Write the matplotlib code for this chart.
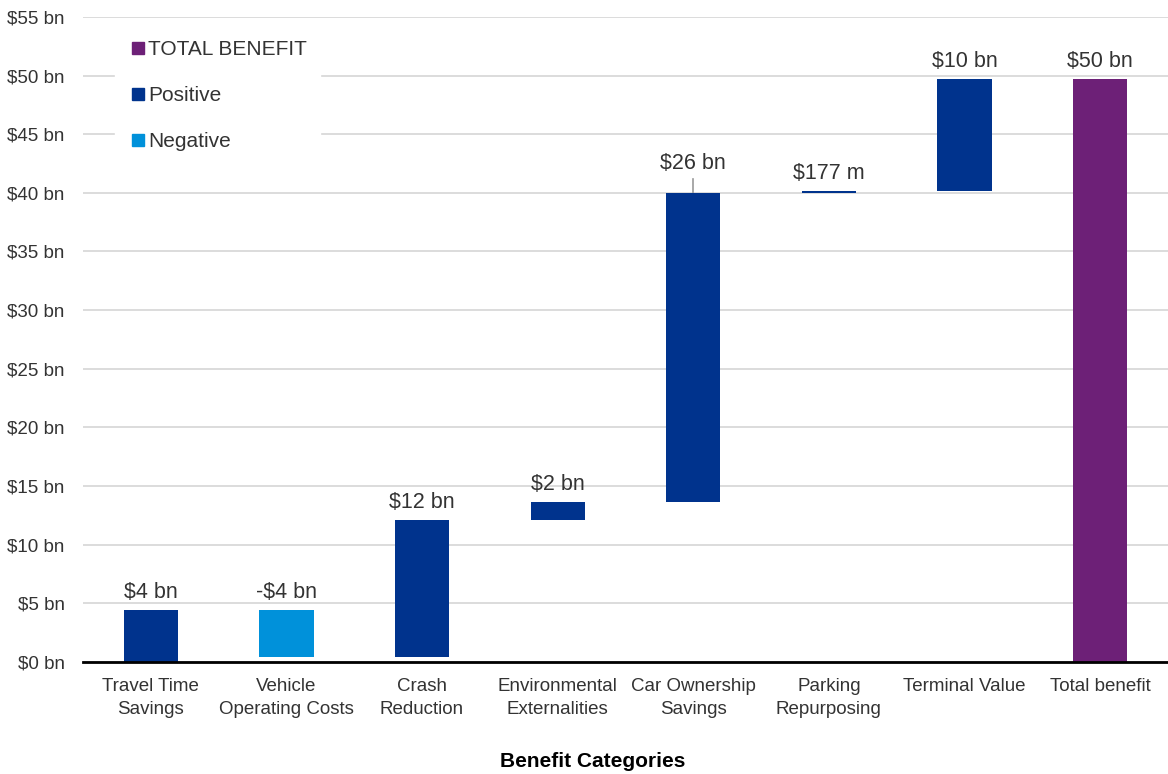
import numpy as np
import matplotlib.pyplot as plt
from matplotlib.lines import Line2D

plt.rcParams['font.family'] = ['Liberation Sans', 'DejaVu Sans']

categories = ['Travel Time\nSavings', 'Vehicle\nOperating Costs', 'Crash\nReduction',
              'Environmental\nExternalities', 'Car Ownership\nSavings', 'Parking\nRepurposing',
              'Terminal Value', 'Total benefit']
# change in benefit per category, $ bn
deltas = [4.45, -4.05, 11.7, 1.55, 26.3, 0.177, 9.57]
y_ticks = list(range(0, 60, 5))

POS = '#00338D'
NEG = '#0091DA'
TOTAL = '#6D2077'
TEXT = '#333333'


def fmt(v):
    sign = '-' if v < 0 else ''
    v = abs(v)
    if v < 1:
        return f'{sign}${v * 1000:.0f} m'
    return f'{sign}${v:.0f} bn'


ends = np.cumsum(deltas)
starts = ends - np.array(deltas)
total = ends[-1]

bottoms = list(np.minimum(starts, ends)) + [0]
heights = list(np.abs(deltas)) + [total]
tops = list(np.maximum(starts, ends)) + [total]
colors = [POS if d >= 0 else NEG for d in deltas] + [TOTAL]
labels = [fmt(d) for d in deltas] + [fmt(total)]

fig = plt.figure(figsize=(11.68, 7.74), dpi=100)
ax = fig.add_axes([0.071, 0.145, 0.929, 0.833])

x = np.arange(len(categories))
ax.bar(x, heights, bottom=bottoms, width=0.4, color=colors, zorder=3)

for i, (top, lab) in enumerate(zip(tops, labels)):
    if i == 4:
        # tall bar gets a small leader line up to its label
        ax.plot([i, i], [top, top + 1.25], color='#999999', lw=1.2, zorder=2)
        ax.annotate(lab, (i, top), xytext=(0, 14), textcoords='offset points',
                    ha='center', va='bottom', fontsize=15.5, color=TEXT)
    else:
        ax.annotate(lab, (i, top), xytext=(0, 5), textcoords='offset points',
                    ha='center', va='bottom', fontsize=15.5, color=TEXT)

ax.set_xlim(-0.5, len(categories) - 0.5)
ax.set_ylim(0, 55)
ax.set_yticks(y_ticks)
ax.set_yticklabels([f'${t} bn' for t in y_ticks], fontsize=13.5, color=TEXT)
ax.set_xticks(x)
ax.set_xticklabels(categories, fontsize=13.5, color=TEXT, linespacing=1.45)
ax.tick_params(length=0)
ax.tick_params(axis='x', pad=12)
ax.tick_params(axis='y', pad=13)

ax.grid(axis='y', color='#D9D9D9', lw=1.3, zorder=0)
for s in ['top', 'right', 'left']:
    ax.spines[s].set_visible(False)
ax.spines['bottom'].set_color('black')
ax.spines['bottom'].set_linewidth(2)
ax.spines['bottom'].set_zorder(5)

ax.set_xlabel('Benefit Categories', fontsize=15, fontweight='bold', color='black')
ax.xaxis.set_label_coords(0.47, -0.14)

handles = [Line2D([], [], marker='s', ls='', color=c, markersize=9)
           for c in [TOTAL, POS, NEG]]
leg = ax.legend(handles, ['TOTAL BENEFIT', 'Positive', 'Negative'], loc='upper left',
                bbox_to_anchor=(0.02, 1.0), frameon=True, fancybox=False,
                edgecolor='white', framealpha=1, fontsize=15, labelspacing=1.3,
                handletextpad=0.0, borderpad=0.6, handlelength=1.0)
for t in leg.get_texts():
    t.set_color(TEXT)
leg.set_zorder(6)

fig.savefig('out.png', dpi=100)
